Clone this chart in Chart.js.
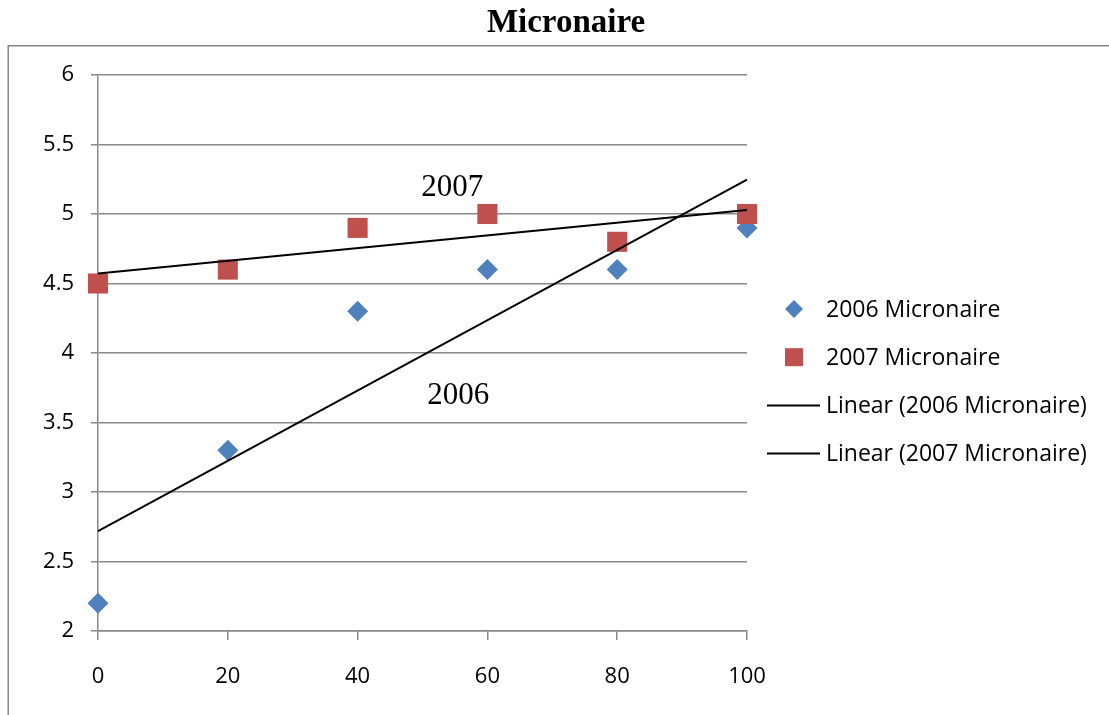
<!DOCTYPE html>
<html>
<head>
<meta charset="utf-8">
<title>Micronaire</title>
<script src="https://cdn.jsdelivr.net/npm/chart.js@4"></script>
<style>
  html, body { margin: 0; padding: 0; background: #ffffff; }
  #wrap { position: relative; width: 1109px; height: 715px; }
</style>
</head>
<body>
<div id="wrap"><canvas id="chart"></canvas></div>
<script>
// Sampling positions (x axis) and micronaire readings per season
const positions = [0, 20, 40, 60, 80, 100];
const micronaire2006 = [2.2, 3.3, 4.3, 4.6, 4.6, 4.9];
const micronaire2007 = [4.5, 4.6, 4.9, 5.0, 4.8, 5.0];
const seriesNames = ['2006 Micronaire', '2007 Micronaire'];
const trendNames = ['Linear (2006 Micronaire)', 'Linear (2007 Micronaire)'];
const yTicks = [2, 2.5, 3, 3.5, 4, 4.5, 5, 5.5, 6];
const xTicks = [0, 20, 40, 60, 80, 100];
const chartTitle = 'Micronaire';
// Year captions placed beside the trend lines, in data units
const captions = [
  { text: '2007', x: 54.6, y: 5.13 },
  { text: '2006', x: 55.5, y: 3.63 }
];

const BLUE = '#4F81BD';
const RED = '#C0504D';
const AXIS_GRAY = '#898989';

// Ordinary least-squares fit evaluated at the ends of the x range
function linearFit(xs, ys) {
  const n = xs.length;
  const mx = xs.reduce((a, b) => a + b, 0) / n;
  const my = ys.reduce((a, b) => a + b, 0) / n;
  let sxy = 0, sxx = 0;
  for (let i = 0; i < n; i++) {
    sxy += (xs[i] - mx) * (ys[i] - my);
    sxx += (xs[i] - mx) * (xs[i] - mx);
  }
  const slope = sxy / sxx;
  const icept = my - slope * mx;
  const x0 = xs[0], x1 = xs[n - 1];
  return [{ x: x0, y: icept + slope * x0 }, { x: x1, y: icept + slope * x1 }];
}

const toPoints = (ys) => positions.map((x, i) => ({ x, y: ys[i] }));

Chart.defaults.font.family = "'Open Sans', 'Noto Sans', sans-serif";
Chart.defaults.color = '#000000';

// Outer frame and title drawn before the chart
const framePlugin = {
  id: 'frame',
  beforeDraw(chart) {
    const ctx = chart.ctx;
    ctx.save();
    ctx.strokeStyle = '#868686';
    ctx.lineWidth = 1.5;
    ctx.beginPath();
    ctx.moveTo(8.25, chart.height);
    ctx.lineTo(8.25, 45.75);
    ctx.lineTo(chart.width, 45.75);
    ctx.stroke();
    ctx.fillStyle = '#000000';
    ctx.font = "bold 33px 'Liberation Serif', 'Times New Roman', serif";
    ctx.textAlign = 'center';
    ctx.textBaseline = 'alphabetic';
    ctx.fillText(chartTitle, 566, 32);
    ctx.restore();
  }
};

// Year captions and the right-hand legend
const overlayPlugin = {
  id: 'overlay',
  afterDraw(chart) {
    const ctx = chart.ctx;
    const xs = chart.scales.x, ys = chart.scales.y;
    ctx.save();
    ctx.fillStyle = '#000000';
    ctx.font = "31px 'Liberation Serif', 'Times New Roman', serif";
    ctx.textAlign = 'center';
    ctx.textBaseline = 'alphabetic';
    captions.forEach(c => {
      ctx.fillText(c.text, xs.getPixelForValue(c.x), ys.getPixelForValue(c.y));
    });

    const mx = 794, tx = 826, top = 309, step = 48.2;
    ctx.font = "23px 'Open Sans', 'Noto Sans', sans-serif";
    ctx.textAlign = 'left';
    ctx.textBaseline = 'middle';
    const items = [
      { label: seriesNames[0], kind: 'diamond', color: BLUE },
      { label: seriesNames[1], kind: 'square', color: RED },
      { label: trendNames[0], kind: 'line', color: '#000000' },
      { label: trendNames[1], kind: 'line', color: '#000000' }
    ];
    items.forEach((it, i) => {
      const y = top + i * step;
      ctx.fillStyle = it.color;
      ctx.strokeStyle = it.color;
      if (it.kind === 'diamond') {
        ctx.beginPath();
        ctx.moveTo(mx - 9, y);
        ctx.lineTo(mx, y - 9);
        ctx.lineTo(mx + 9, y);
        ctx.lineTo(mx, y + 9);
        ctx.closePath();
        ctx.fill();
      } else if (it.kind === 'square') {
        ctx.fillRect(mx - 9, y - 9, 18, 18);
      } else {
        ctx.lineWidth = 2;
        ctx.beginPath();
        ctx.moveTo(767, y);
        ctx.lineTo(820, y);
        ctx.stroke();
      }
      ctx.fillStyle = '#000000';
      ctx.fillText(it.label, tx, y + 1);
    });
    ctx.restore();
  }
};

new Chart(document.getElementById('chart'), {
  type: 'scatter',
  data: {
    datasets: [
      {
        label: seriesNames[0],
        data: toPoints(micronaire2006),
        pointStyle: 'rectRot',
        pointRadius: 10.5,
        pointHoverRadius: 10.5,
        backgroundColor: BLUE,
        borderColor: BLUE,
        borderWidth: 0,
        clip: false,
        order: 4
      },
      {
        label: seriesNames[1],
        data: toPoints(micronaire2007),
        pointStyle: 'rect',
        pointRadius: 14.2,
        pointHoverRadius: 14.2,
        backgroundColor: RED,
        borderColor: RED,
        borderWidth: 0,
        clip: false,
        order: 3
      },
      {
        label: trendNames[0],
        data: linearFit(positions, micronaire2006),
        showLine: true,
        pointRadius: 0,
        borderColor: '#000000',
        borderWidth: 2,
        clip: false,
        order: 2
      },
      {
        label: trendNames[1],
        data: linearFit(positions, micronaire2007),
        showLine: true,
        pointRadius: 0,
        borderColor: '#000000',
        borderWidth: 2,
        clip: false,
        order: 1
      }
    ]
  },
  options: {
    responsive: true,
    maintainAspectRatio: false,
    animation: false,
    layout: { padding: { top: 75, right: 362, left: 0, bottom: 0 } },
    plugins: {
      legend: { display: false },
      title: { display: false },
      tooltip: { enabled: false }
    },
    scales: {
      x: {
        type: 'linear',
        min: xTicks[0],
        max: xTicks[xTicks.length - 1],
        afterBuildTicks(scale) { scale.ticks = xTicks.map(v => ({ value: v })); },
        afterFit(scale) { scale.height = 84; },
        grid: {
          drawOnChartArea: false,
          drawTicks: true,
          tickLength: 9,
          color: AXIS_GRAY,
          lineWidth: 1.5
        },
        border: { color: AXIS_GRAY, width: 1.5 },
        ticks: {
          padding: 24,
          font: { size: 22 },
          color: '#000000',
          maxRotation: 0,
          callback: (v) => String(v)
        }
      },
      y: {
        type: 'linear',
        min: yTicks[0],
        max: yTicks[yTicks.length - 1],
        afterBuildTicks(scale) { scale.ticks = yTicks.map(v => ({ value: v })); },
        afterFit(scale) { scale.width = 98; },
        grid: {
          drawOnChartArea: true,
          drawTicks: true,
          tickLength: 7,
          color: AXIS_GRAY,
          lineWidth: 1.5
        },
        border: { color: AXIS_GRAY, width: 1.5 },
        ticks: {
          padding: 17,
          font: { size: 22 },
          color: '#000000',
          callback: (v) => String(v)
        }
      }
    }
  },
  plugins: [framePlugin, overlayPlugin]
});
</script>
</body>
</html>
